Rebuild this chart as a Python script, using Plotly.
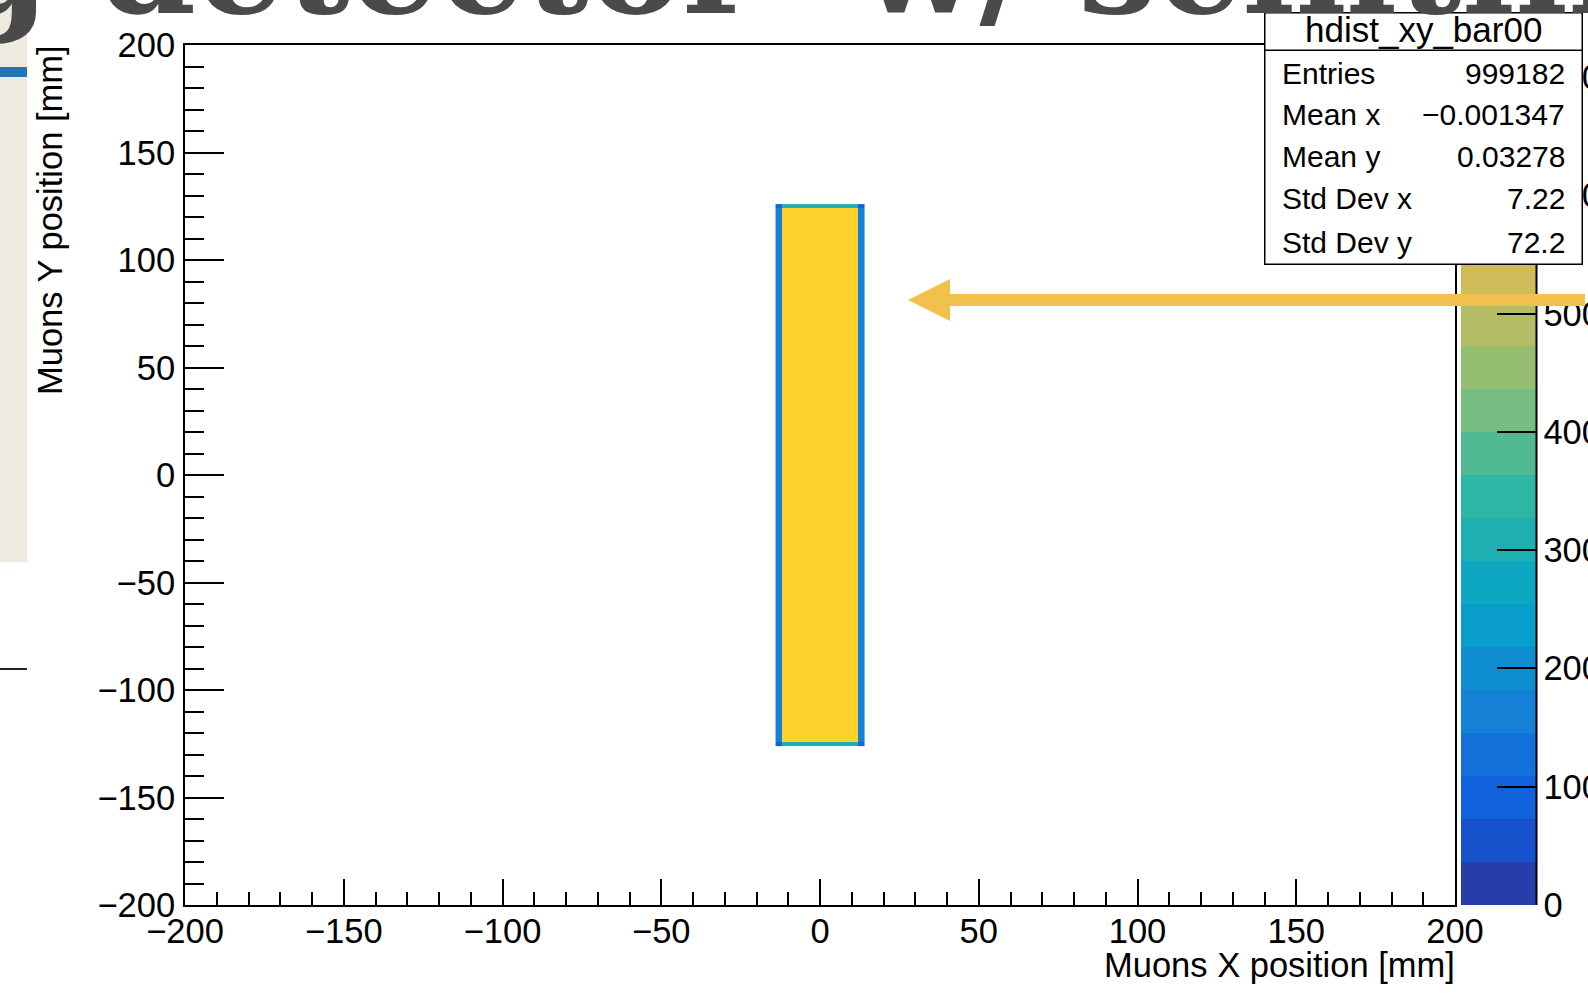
import plotly.graph_objects as go

# ---------------- data ----------------
x_bin_centers = [-13, -11, -9, -7, -5, -3, -1, 1, 3, 5, 7, 9, 11, 13]   # 2 mm bins
y_bin_centers = list(range(-125, 126, 2))                                 # 2 mm bins
interior_count = 640      # typical bin content inside the bar
edge_column_count = 160   # partly filled bins at left/right edges
edge_row_count = 320      # partly filled bins at top/bottom edges
corner_count = 80

z_max = 727
n_contours = 20
colorbar_ticks = [0, 100, 200, 300, 400, 500, 600, 700]
x_ticks = [-200, -150, -100, -50, 0, 50, 100, 150, 200]
y_ticks = [-200, -150, -100, -50, 0, 50, 100, 150, 200]

stats_title = "hdist_xy_bar00"
stats_labels = ["Entries", "Mean x", "Mean y", "Std Dev x", "Std Dev y"]
stats_values = ["999182", "\u22120.001347", "0.03278", "7.22", "72.2"]

x_title = "Muons X position [mm]"
y_title = "Muons Y position [mm]"
slide_title_words = ["Testing detector", "w/", "scintillator bar"]

# ---------------- build bin grid ----------------
z = []
for yc in y_bin_centers:
    row = []
    y_edge = yc in (y_bin_centers[0], y_bin_centers[-1])
    for xc in x_bin_centers:
        x_edge = xc in (x_bin_centers[0], x_bin_centers[-1])
        if x_edge and y_edge:
            row.append(corner_count)
        elif x_edge:
            row.append(edge_column_count)
        elif y_edge:
            row.append(edge_row_count)
        else:
            row.append(interior_count)
    z.append(row)

# ---------------- ROOT kBird palette, 20 discrete levels ----------------
stops = [0.0, 0.125, 0.25, 0.375, 0.5, 0.625, 0.75, 0.875, 1.0]
red = [0.2082, 0.0592, 0.0780, 0.0232, 0.1802, 0.5301, 0.8186, 0.9956, 0.9764]
green = [0.1664, 0.3599, 0.5041, 0.6419, 0.7178, 0.7492, 0.7328, 0.7862, 0.9832]
blue = [0.5293, 0.8684, 0.8385, 0.7914, 0.6425, 0.4662, 0.3499, 0.1968, 0.0539]


def bird(t):
    t = min(max(t, 0.0), 1.0)
    for k in range(len(stops) - 1):
        if stops[k] <= t <= stops[k + 1]:
            f = (t - stops[k]) / (stops[k + 1] - stops[k])
            r = red[k] + f * (red[k + 1] - red[k])
            g = green[k] + f * (green[k + 1] - green[k])
            b = blue[k] + f * (blue[k + 1] - blue[k])
            return "rgb(%d,%d,%d)" % (round(r * 255), round(g * 255), round(b * 255))
    return "rgb(249,251,14)"


colorscale = []
for i in range(n_contours):
    c = bird((i + 0.99) / n_contours)
    colorscale.append([i / n_contours, c])
    colorscale.append([(i + 1) / n_contours, c])

# ---------------- layout geometry (pixels) ----------------
W, H = 1588, 1008
L, R, T, B = 185, 1455, 45, 905


def px(xp):
    return (xp - L) / (R - L)


def py(yp):
    return (B - yp) / (B - T)


FONT = "Liberation Sans, Arial, Helvetica, sans-serif"
FS = 34.5

fig = go.Figure()
fig.add_trace(go.Heatmap(
    x=x_bin_centers, y=y_bin_centers, z=z,
    zmin=0, zmax=z_max, colorscale=colorscale,
    hoverinfo="skip",
    colorbar=dict(
        thickness=75, thicknessmode="pixels",
        len=1, lenmode="fraction",
        x=px(1461), xanchor="left", xref="paper",
        y=0.5, yanchor="middle", yref="paper",
        xpad=0, ypad=0, outlinewidth=0,
        ticks="inside", ticklen=39, tickwidth=2, tickcolor="black",
        tickvals=colorbar_ticks,
        tickfont=dict(size=FS, family=FONT, color="black"),
    ),
))

axis_common = dict(
    range=[-200, 200], showline=True, linecolor="black", linewidth=2, mirror=True,
    ticks="inside", tickwidth=2, tickcolor="black",
    showgrid=False, zeroline=False,
    tickfont=dict(size=FS, family=FONT, color="black"),
)
fig.update_xaxes(**axis_common, tickvals=x_ticks, ticklen=26,
                 minor=dict(ticks="inside", ticklen=13, dtick=10, tickwidth=2, tickcolor="black"),
                 ticklabelstandoff=-5)
fig.update_yaxes(**axis_common, tickvals=y_ticks, ticklen=39,
                 minor=dict(ticks="inside", ticklen=19, dtick=10, tickwidth=2, tickcolor="black"),
                 ticklabelstandoff=1)

shapes = [
    dict(type="rect", xref="paper", yref="paper", x0=px(0), x1=px(27), y0=py(0), y1=py(562),
         fillcolor="#EEEAE0", line=dict(width=0), layer="below"),
    dict(type="rect", xref="paper", yref="paper", x0=px(0), x1=px(27), y0=py(67), y1=py(77),
         fillcolor="#2274B2", line=dict(width=0), layer="below"),
    dict(type="rect", xref="paper", yref="paper", x0=px(0), x1=px(27), y0=py(668), y1=py(670),
         fillcolor="#222222", line=dict(width=0), layer="below"),
]

ann = []
# colorbar axis line on its right side
ann.append(dict(xref="paper", yref="paper", x=px(1536.5), y=py(905), text="",
                showarrow=True, arrowhead=0, arrowwidth=2, arrowcolor="black",
                ax=0, ay=-860, standoff=0))
# axis titles
ann.append(dict(xref="paper", yref="paper", x=px(1457), y=py(965), xanchor="right", yanchor="middle",
                text=x_title, showarrow=False, font=dict(size=FS, family=FONT, color="black")))
ann.append(dict(xref="paper", yref="paper", x=px(50), y=py(43), xanchor="center", yanchor="top",
                text=y_title, textangle=-90, showarrow=False,
                font=dict(size=FS, family=FONT, color="black")))
# stats box
ann.append(dict(xref="paper", yref="paper", x=px(1264), y=py(12), xanchor="left", yanchor="top",
                text=" ", width=316, height=250, bgcolor="white", bordercolor="black",
                borderwidth=1.5, borderpad=0, showarrow=False))
ann.append(dict(xref="paper", yref="paper", x=px(1264), y=py(12), xanchor="left", yanchor="top",
                text=" ", width=316, height=36, bgcolor="white", bordercolor="black",
                borderwidth=1.5, borderpad=0, showarrow=False))
ann.append(dict(xref="paper", yref="paper", x=px(1423), y=py(29), xanchor="center", yanchor="middle",
                text=stats_title, showarrow=False, borderpad=0,
                font=dict(size=35, family=FONT, color="black")))
row_centers = [73, 114, 156, 199, 242]
for lab, val, yc in zip(stats_labels, stats_values, row_centers):
    ann.append(dict(xref="paper", yref="paper", x=px(1280), y=py(yc), xanchor="left", yanchor="middle",
                    text=lab, showarrow=False, font=dict(size=30, family=FONT, color="black")))
    ann.append(dict(xref="paper", yref="paper", x=px(1567), y=py(yc), xanchor="right", yanchor="middle",
                    text=val, showarrow=False, font=dict(size=30, family=FONT, color="black")))
# highlighting arrow
ann.append(dict(xref="paper", yref="paper", x=px(908), y=py(300), text=" ",
                showarrow=True, arrowhead=2, arrowsize=0.7, arrowwidth=12, arrowcolor="#F2C14D",
                ax=760, ay=0, standoff=0))
# slide title, cut off at top
title_font = dict(size=140, family="DejaVu Serif", color="#4A4A4A")
title_y = py(-36)
ann.append(dict(xref="paper", yref="paper", x=px(760), y=title_y, xanchor="right", yanchor="middle",
                text="<b>" + slide_title_words[0] + "</b>", showarrow=False, font=title_font))
ann.append(dict(xref="paper", yref="paper", x=px(855), y=title_y, xanchor="left", yanchor="middle",
                text="<b>" + slide_title_words[1] + "</b>", showarrow=False, font=title_font))
ann.append(dict(xref="paper", yref="paper", x=px(1076), y=title_y, xanchor="left", yanchor="middle",
                text="<b>" + slide_title_words[2] + "</b>", showarrow=False, font=title_font))

fig.update_layout(
    width=W, height=H,
    margin=dict(l=L, r=W - R, t=T, b=H - B, pad=0, autoexpand=False),
    plot_bgcolor="white", paper_bgcolor="white",
    shapes=shapes, annotations=ann, showlegend=False,
)

fig.write_html("out.html", config={"displayModeBar": False},
               post_script="document.body.style.margin='0px';")
